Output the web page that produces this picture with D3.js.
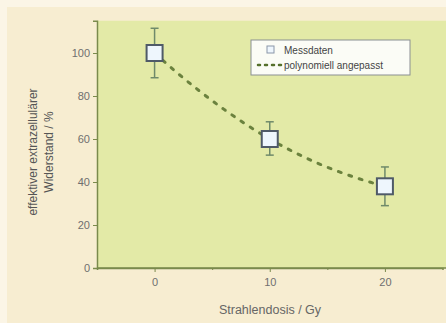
<!DOCTYPE html>
<html><head><meta charset="utf-8">
<script src="https://cdn.jsdelivr.net/npm/d3@7"></script>
<style>body{margin:0;background:#fbf5e6}svg{display:block}text{font-family:"Liberation Sans",Arial,sans-serif}</style>
</head><body>
<script>
const doses = [0, 10, 20];
const resistance = [100, 60, 38];
const errUp = [11.5, 8, 9];
const errDown = [11.5, 7.5, 9];
const fitX = [0, 2, 4, 6, 8, 10, 12, 14, 16, 18, 20];
const fitY = [100, 90.6, 81.9, 73.9, 66.6, 60, 54.2, 49.1, 44.8, 41.1, 38];
const xTicks = [0, 10, 20];
const xMinor = [5, 15];
const yTicks = [0, 20, 40, 60, 80, 100];
const legendLabels = ["Messdaten", "polynomiell angepasst"];

const W = 446, H = 323;
const svg = d3.select("body").append("svg").attr("width", W).attr("height", H);
svg.append("rect").attr("x", 7).attr("y", 7).attr("width", W - 7).attr("height", H - 7).attr("fill", "#f7edd1");

const x = d3.scaleLinear().domain([-5, 25]).range([97, 442.5]);
const y = d3.scaleLinear().domain([0, 115]).range([268, 20.75]);

svg.append("rect").attr("x", x(-5)).attr("y", y(115)).attr("width", W - x(-5)).attr("height", y(0) - y(115)).attr("fill", "#e3eaa7");

const axColor = "#7a8a4c";
const gx = svg.append("g").attr("transform", `translate(0,${y(0)})`)
  .call(d3.axisBottom(x).tickValues(xTicks).tickSize(4).tickPadding(6).tickFormat(d3.format("d")));
gx.append("g").call(d3.axisBottom(x).tickValues(xMinor).tickSize(2).tickFormat(""));
const gy = svg.append("g").attr("transform", `translate(${x(-5)},0)`)
  .call(d3.axisLeft(y).tickValues(yTicks).tickSize(4).tickPadding(3).tickFormat(d3.format("d")));
[gx, gy].forEach(g => {
  g.selectAll(".domain").attr("stroke", axColor).attr("stroke-width", 1.5);
  g.selectAll("line").attr("stroke", axColor);
  g.selectAll("text").attr("fill", "#6f6f6f").style("font-size", "11px");
});
gx.select(".domain").attr("d", `M${x(-5)},0H${W}`);

// fit line
const line = d3.line().x((d, i) => x(fitX[i])).y(d => y(d)).curve(d3.curveMonotoneX);
svg.append("path").datum(fitY).attr("d", line).attr("fill", "none")
  .attr("stroke", "#56702c").attr("stroke-width", 3).attr("stroke-dasharray", "3,8").attr("stroke-linecap", "round").attr("opacity", 0.85);

// error bars
const eb = svg.append("g");
doses.forEach((d, i) => {
  const cx = x(d);
  eb.append("line").attr("x1", cx).attr("x2", cx).attr("y1", y(resistance[i] + errUp[i])).attr("y2", y(resistance[i] - errDown[i]))
    .attr("stroke", "#6f8a6a").attr("stroke-width", 1.5);
  [resistance[i] + errUp[i], resistance[i] - errDown[i]].forEach(v => {
    eb.append("line").attr("x1", cx - 4).attr("x2", cx + 4).attr("y1", y(v)).attr("y2", y(v)).attr("stroke", "#6f8a6a").attr("stroke-width", 1.5);
  });
});
svg.append("g").selectAll("rect").data(doses).join("rect")
  .attr("x", d => x(d) - 8).attr("y", (d, i) => y(resistance[i]) - 8).attr("width", 16).attr("height", 16)
  .attr("fill", "#eef6fd").attr("stroke", "#4f5a68").attr("stroke-width", 2);

// legend
const lg = svg.append("g");
lg.append("rect").attr("x", 251).attr("y", 40).attr("width", 159).attr("height", 35).attr("fill", "#fbfcf6").attr("stroke", "#8a8f92").attr("stroke-width", 1);
lg.append("rect").attr("x", 267).attr("y", 46).attr("width", 7).attr("height", 7).attr("fill", "#eef6fd").attr("stroke", "#8a96a8").attr("stroke-width", 1);
lg.append("line").attr("x1", 258).attr("x2", 283).attr("y1", 65).attr("y2", 65).attr("stroke", "#56702c").attr("stroke-width", 2.5).attr("stroke-dasharray", "2,5").attr("stroke-linecap", "round");
lg.append("text").attr("x", 284).attr("y", 54).text(legendLabels[0]).attr("fill", "#444").style("font-size", "10px");
lg.append("text").attr("x", 284).attr("y", 69).text(legendLabels[1]).attr("fill", "#444").style("font-size", "10px");

// axis titles
svg.append("text").attr("x", 270).attr("y", 314).attr("text-anchor", "middle").attr("fill", "#666").style("font-size", "12.5px").text("Strahlendosis / Gy");
const yl = svg.append("text").attr("transform", "translate(37,152) rotate(-90)").attr("text-anchor", "middle").attr("fill", "#555").style("font-size", "12px");
yl.append("tspan").attr("x", 0).attr("dy", 0).text("effektiver extrazellulärer");
yl.append("tspan").attr("x", 0).attr("dy", 16).text("Widerstand / %");
</script>
</body></html>
